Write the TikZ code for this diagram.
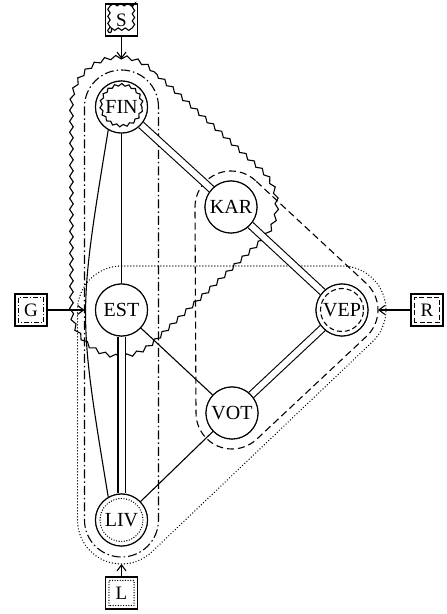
\documentclass[tikz,border=0pt]{standalone}
\usepackage{fontspec}
\setmainfont{Liberation Serif}
\usetikzlibrary{calc,decorations.pathmorphing,arrows.meta}
\begin{document}
\begin{tikzpicture}[x=1pt,y=1pt,line width=1.1pt,
  lang/.style={circle, draw, fill=white, minimum size=52pt, inner sep=0pt, font=\fontsize{20}{22}\selectfont},
  tag/.style={rectangle, draw, fill=white, minimum size=32pt, inner sep=0pt, font=\fontsize{19}{21}\selectfont},
  wavy/.style={decorate, decoration={snake, amplitude=1.8pt, segment length=11pt}},
  wavysmall/.style={decorate, decoration={snake, amplitude=1.2pt, segment length=7pt}},
  dashdotline/.style={dash pattern=on 9pt off 3pt on 1.5pt off 3pt},
  dashline/.style={dash pattern=on 7pt off 4pt},
  dotline/.style={dash pattern=on 0pt off 3pt, line cap=round, line width=1.4pt},
  dlink/.style={double, double distance=6pt},
  arr/.style={-{Straight Barb[length=6pt,width=9pt]}}]
\path[use as bounding box] (0,0) rectangle (447,614);

% language nodes
\node[lang] (FIN) at (121.5,507) {FIN};
\node[lang] (KAR) at (231,407) {KAR};
\node[lang] (EST) at (121.5,304) {EST};
\node[lang] (VEP) at (342,304) {VEP};
\node[lang] (VOT) at (232,201) {VOT};
\node[lang] (LIV) at (121.5,94) {LIV};

% tag boxes
\node[tag] (S) at (121.5,594) {S};
\node[tag] (G) at (31,304) {G};
\node[tag] (R) at (427,304) {R};
\node[tag] (L) at (121.5,21) {L};

% regions
\draw[wavy] ($(FIN)+(47.5:48)$) arc (47.5:180:48) -- ($(EST)+(180:48)$) arc (180:313.4:48)
  -- ($(KAR)+(-46.6:48)$) arc (-46.6:47.5:48) -- cycle;
\draw[dashdotline] ($(FIN)+(0:37)$) arc (0:180:37) -- ($(LIV)+(180:37)$) arc (180:360:37) -- cycle;
\draw[dashline] ($(KAR)+(47.1:36)$) arc (47.1:180:36) -- ($(VOT)+(180:36)$) arc (180:313.1:36)
  -- ($(VEP)+(-46.9:36)$) arc (-46.9:47.1:36) -- cycle;
\draw[dotline] ($(EST)+(90:44)$) arc (90:180:44) -- ($(LIV)+(180:44)$) arc (180:313.7:44)
  -- ($(VEP)+(-46.3:44)$) arc (-46.3:90:44) -- cycle;

% arrow targets
\coordinate (sT) at ($(FIN)+(0,48)$);
\coordinate (gT) at ($(EST)+(-37,0)$);
\coordinate (rT) at ($(VEP)+(36,0)$);
\coordinate (lT) at ($(LIV)+(0,-44)$);

% edges
\draw[dlink] (FIN) -- (KAR);
\draw[dlink] (KAR) -- (VEP);
\draw[dlink] (VEP) -- (VOT);
\draw[dlink] (EST) -- (LIV);
\draw (FIN) -- (EST);
\draw (FIN.240) .. controls (78,300) .. (LIV.120);
\draw (EST) -- (VOT);
\draw (VOT) -- (LIV);

% redraw nodes on top
\node[lang] at (FIN) {FIN};
\node[lang] at (KAR) {KAR};
\node[lang] at (EST) {EST};
\node[lang] at (VEP) {VEP};
\node[lang] at (VOT) {VOT};
\node[lang] at (LIV) {LIV};

% inner marks
\draw[wavysmall] (FIN) circle (20.5);
\draw[dashline, dash pattern=on 5pt off 3pt] (VEP) circle (21.5);
\draw[dotline, dash pattern=on 0pt off 2.6pt] (LIV) circle (21.5);
\draw[wavysmall] ($(S.south west)+(4,4)$) rectangle ($(S.north east)+(-4,-4)$);
\draw[dashdotline, dash pattern=on 5pt off 2pt on 1pt off 2pt] ($(G.south west)+(4,4)$) rectangle ($(G.north east)+(-4,-4)$);
\draw[dashline, dash pattern=on 5pt off 2.5pt] ($(R.south west)+(4,4)$) rectangle ($(R.north east)+(-4,-4)$);
\draw[dotline, dash pattern=on 0pt off 2.6pt] ($(L.south west)+(4,4)$) rectangle ($(L.north east)+(-4,-4)$);

% arrows
\draw[arr] (S) -- (sT);
\draw[arr] (G) -- (gT);
\draw[arr] (R) -- (rT);
\draw[arr] (L) -- (lT);
\end{tikzpicture}
\end{document}
